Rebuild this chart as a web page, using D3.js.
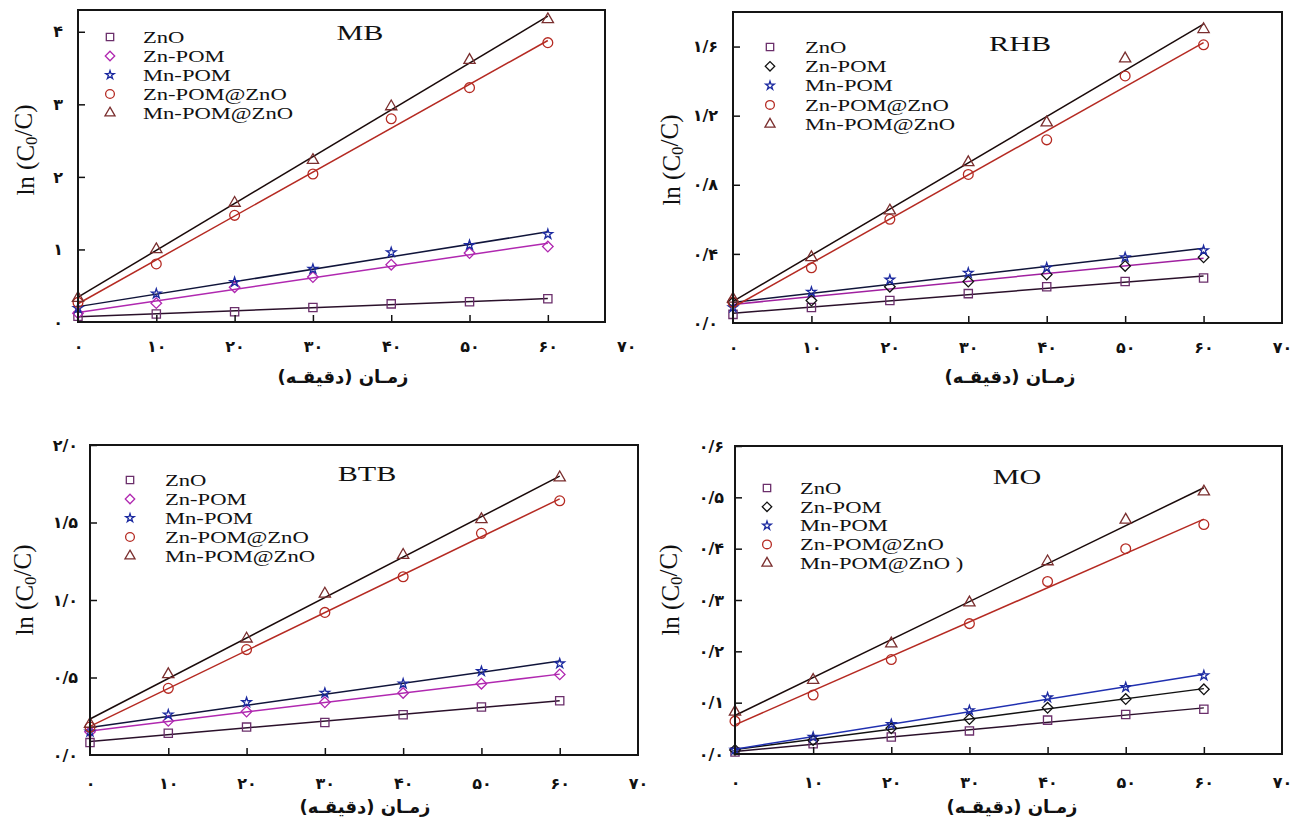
<!DOCTYPE html>
<html><head><meta charset="utf-8">
<script src="https://cdn.jsdelivr.net/npm/d3@7"></script>
<style>body{margin:0;background:#fff}</style>
</head><body><svg id="c" width="1292" height="823"></svg>
<script>
const times=[0,10,20,30,40,50,60];
const seriesNames=["ZnO","Zn-POM","Mn-POM","Zn-POM@ZnO","Mn-POM@ZnO"];
const xTickValues=[0,10,20,30,40,50,60,70];
const xTickLabels=["۰","۱۰","۲۰","۳۰","۴۰","۵۰","۶۰","۷۰"];
const xTitle="زمـان (دقیقـه)";

// MB
const mbZnO=[0.08,0.11,0.14,0.20,0.25,0.28,0.32];
const mbZnPOM=[0.12,0.26,0.48,0.62,0.79,0.95,1.04];
const mbMnPOM=[0.19,0.39,0.55,0.73,0.96,1.06,1.21];
const mbZnPOMZnO=[0.27,0.80,1.47,2.04,2.80,3.23,3.85];
const mbMnPOMZnO=[0.33,1.00,1.64,2.23,2.97,3.61,4.17];
const mbYTicks=[0,1,2,3,4];
const mbYTickLabels=["۰","۱","۲","۳","۴"];

// RHB
const rhbZnO=[0.05,0.09,0.13,0.17,0.21,0.24,0.26];
const rhbZnPOM=[0.12,0.13,0.21,0.24,0.28,0.33,0.38];
const rhbMnPOM=[0.09,0.18,0.25,0.29,0.32,0.38,0.42];
const rhbZnPOMZnO=[0.12,0.32,0.60,0.86,1.06,1.43,1.61];
const rhbMnPOMZnO=[0.14,0.38,0.65,0.93,1.16,1.53,1.70];
const rhbYTicks=[0,0.4,0.8,1.2,1.6];
const rhbYTickLabels=["۰/۰","۰/۴","۰/۸","۱/۲","۱/۶"];

// BTB
const btbZnO=[0.08,0.14,0.18,0.21,0.26,0.31,0.35];
const btbZnPOM=[0.15,0.22,0.28,0.34,0.40,0.46,0.52];
const btbMnPOM=[0.15,0.26,0.34,0.40,0.46,0.54,0.59];
const btbZnPOMZnO=[0.18,0.43,0.68,0.92,1.15,1.43,1.64];
const btbMnPOMZnO=[0.20,0.52,0.75,1.04,1.29,1.52,1.79];
const btbYTicks=[0,0.5,1.0,1.5,2.0];
const btbYTickLabels=["۰/۰","۰/۵","۱/۰","۱/۵","۲/۰"];

// MO
const moZnO=[0.004,0.020,0.033,0.045,0.066,0.077,0.087];
const moZnPOM=[0.008,0.027,0.050,0.068,0.090,0.107,0.126];
const moMnPOM=[0.008,0.033,0.058,0.085,0.110,0.130,0.153];
const moZnPOMZnO=[0.064,0.115,0.184,0.254,0.336,0.400,0.447];
const moMnPOMZnO=[0.082,0.144,0.215,0.295,0.375,0.456,0.511];
const moYTicks=[0,0.1,0.2,0.3,0.4,0.5,0.6];
const moYTickLabels=["۰/۰","۰/۱","۰/۲","۰/۳","۰/۴","۰/۵","۰/۶"];

const symbols=[d3.symbolSquare,"diamond",d3.symbolStar,d3.symbolCircle,d3.symbolTriangle];
const symSize=[68,56,28,75,55];

const panels=[
 {title:"MB",data:[mbZnO,mbZnPOM,mbMnPOM,mbZnPOMZnO,mbMnPOMZnO],yTicks:mbYTicks,yLabels:mbYTickLabels,
  fx0:78,fx1:605,xMax:67.3,fy0:322,fy1:10,yMax:4.3,yPad:15,xLabOff:24,
  marker:["#6b2f6b","#b028b0","#1c2aa0","#b52a22","#7a2e2e"],line:["#2a102a","#b028b0","#10143a","#b52a22","#1a0a0a"],
  leg:{mx:110,tx:143,y:37,dy:19},tpos:{x:360,y:32},ytp:{x:25,y:150},xtp:{x:343,y:377},legendLabels:seriesNames},
 {title:"RHB",data:[rhbZnO,rhbZnPOM,rhbMnPOM,rhbZnPOMZnO,rhbMnPOMZnO],yTicks:rhbYTicks,yLabels:rhbYTickLabels,
  fx0:733,fx1:1282,xMax:70,fy0:323,fy1:12,yMax:1.8,yPad:15,xLabOff:24,
  marker:["#6b2f6b","#111111","#1c2aa0","#b52a22","#7a2e2e"],line:["#2a102a","#a020a0","#10143a","#b52a22","#1a0a0a"],
  leg:{mx:770,tx:805,y:47,dy:19.3},tpos:{x:1020,y:43},ytp:{x:671,y:160},xtp:{x:1010,y:377},legendLabels:seriesNames},
 {title:"BTB",data:[btbZnO,btbZnPOM,btbMnPOM,btbZnPOMZnO,btbMnPOMZnO],yTicks:btbYTicks,yLabels:btbYTickLabels,
  fx0:90,fx1:638,xMax:70,fy0:755,fy1:445,yMax:2.0,yPad:12,xLabOff:28,
  marker:["#6b2f6b","#b028b0","#1c2aa0","#b52a22","#7a2e2e"],line:["#2a102a","#b028b0","#10143a","#b52a22","#1a0a0a"],
  leg:{mx:130,tx:165,y:480,dy:19},tpos:{x:367,y:473},ytp:{x:24,y:590},xtp:{x:365,y:807},legendLabels:seriesNames},
 {title:"MO",data:[moZnO,moZnPOM,moMnPOM,moZnPOMZnO,moMnPOMZnO],yTicks:moYTicks,yLabels:moYTickLabels,
  fx0:735,fx1:1282,xMax:70,fy0:754,fy1:446,yMax:0.6,yPad:11,xLabOff:28,
  marker:["#6b2f6b","#111111","#1c2aa0","#b52a22","#7a2e2e"],line:["#2a102a","#111111","#2030b0","#b52a22","#1a0a0a"],
  leg:{mx:767,tx:800,y:488,dy:18.8},tpos:{x:1017,y:476},ytp:{x:670,y:590},xtp:{x:1012,y:807},
  legendLabels:["ZnO","Zn-POM","Mn-POM","Zn-POM@ZnO","Mn-POM@ZnO )"]}
];

const svg=d3.select("#c");
const SX=1.37;

function symPath(i,size){
  if(symbols[i]==="diamond") return d3.symbol(d3.symbolSquare,size)();
  return d3.symbol(symbols[i],size)();
}
function symTransform(i,x,y){
  return `translate(${x},${y})`+(symbols[i]==="diamond"?" rotate(45)":"");
}
function fit(ys){
  const n=times.length, mx=d3.mean(times), my=d3.mean(ys);
  let sxy=0,sxx=0;
  for(let k=0;k<n;k++){sxy+=(times[k]-mx)*(ys[k]-my);sxx+=(times[k]-mx)**2;}
  const b=sxy/sxx; return [my-b*mx,b];
}

panels.forEach(p=>{
  const x=d3.scaleLinear().domain([0,p.xMax]).range([p.fx0,p.fx1]);
  const y=d3.scaleLinear().domain([0,p.yMax]).range([p.fy0,p.fy1]);
  const g=svg.append("g");

  p.data.forEach((ys,i)=>{
    const [a,b]=fit(ys);
    g.append("path").attr("d",d3.line()([[x(0),y(a)],[x(60),y(a+b*60)]]))
     .attr("stroke",p.line[i]).attr("stroke-width",1.5).attr("fill","none");
  });
  p.data.forEach((ys,i)=>{
    g.selectAll(null).data(ys).join("path")
     .attr("d",symPath(i,symSize[i]))
     .attr("transform",(v,k)=>symTransform(i,x(times[k]),y(v)))
     .attr("fill","none").attr("stroke",p.marker[i]).attr("stroke-width",1.3);
  });

  const xa=g.append("g").attr("transform",`translate(0,${p.fy0})`)
    .call(d3.axisBottom(x).tickValues(xTickValues).tickSize(-7).tickFormat((d,k)=>xTickLabels[k]));
  xa.select(".domain").remove();
  xa.selectAll(".tick").filter(d=>d===0||d===70).select("line").remove();
  xa.selectAll(".tick line").attr("stroke","#111").attr("stroke-width",1.5);
  xa.selectAll(".tick text").attr("y",p.xLabOff).attr("dy","0.35em")
    .attr("font-family","DejaVu Sans").attr("font-weight","bold").attr("font-size",16).attr("fill","#111");

  const ya=g.append("g").attr("transform",`translate(${p.fx0},0)`)
    .call(d3.axisLeft(y).tickValues(p.yTicks).tickSize(-7).tickPadding(p.yPad).tickFormat((d,k)=>p.yLabels[k]));
  ya.select(".domain").remove();
  ya.selectAll(".tick").filter(d=>d===0).select("line").remove();
  ya.selectAll(".tick line").attr("stroke","#111").attr("stroke-width",1.5);
  ya.selectAll(".tick text").attr("font-family","DejaVu Sans").attr("font-weight","bold").attr("font-size",16).attr("fill","#111");

  g.append("rect").attr("x",p.fx0).attr("y",p.fy1).attr("width",p.fx1-p.fx0).attr("height",p.fy0-p.fy1)
   .attr("fill","none").attr("stroke","#151515").attr("stroke-width",2);

  p.legendLabels.forEach((lab,i)=>{
    const ly=p.leg.y+i*p.leg.dy;
    g.append("path").attr("d",symPath(i,symSize[i]*0.8)).attr("transform",symTransform(i,p.leg.mx,ly))
     .attr("fill","none").attr("stroke",p.marker[i]).attr("stroke-width",1.3);
    g.append("text").attr("transform",`translate(${p.leg.tx},${ly}) scale(${SX},1)`).attr("dy","0.35em")
     .attr("font-family","Liberation Serif").attr("font-size",16.5).attr("fill","#111").text(lab);
  });
  g.append("text").attr("transform",`translate(${p.tpos.x},${p.tpos.y}) scale(${SX},1)`).attr("dy","0.35em")
   .attr("text-anchor","middle").attr("font-family","Liberation Serif").attr("font-size",22).attr("fill","#111").text(p.title);
  const yt=g.append("text").attr("transform",`translate(${p.ytp.x},${p.ytp.y}) rotate(-90)`).attr("dy","0.35em")
   .attr("text-anchor","middle").attr("font-family","Liberation Serif").attr("font-size",25).attr("fill","#111");
  yt.append("tspan").text("ln (C");
  yt.append("tspan").attr("font-size",17).attr("dy","0.2em").text("0");
  yt.append("tspan").attr("dy","-0.2em").text("/C)");
  g.append("text").attr("x",p.xtp.x).attr("y",p.xtp.y).attr("dy","0.35em").attr("text-anchor","middle")
   .style("direction","rtl").style("unicode-bidi","embed")
   .attr("font-family","DejaVu Sans").attr("font-weight","bold").attr("font-size",18).attr("fill","#111").text(xTitle);
});
</script></body></html>
